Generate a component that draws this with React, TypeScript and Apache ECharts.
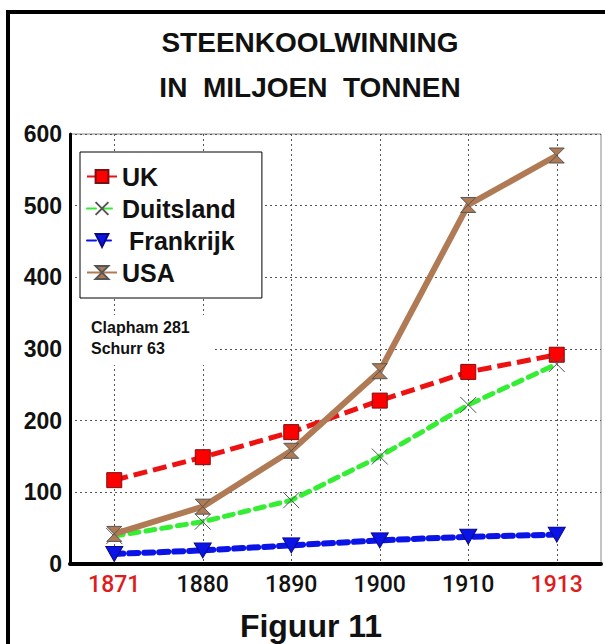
import React, { useEffect, useRef } from "react";
import * as echarts from "echarts";

const years = ["1871", "1880", "1890", "1900", "1910", "1913"];
const redYears = ["1871", "1913"];
const uk = [117, 149, 184, 228, 268, 292];
const duitsland = [39, 59, 89, 150, 222, 279];
const frankrijk = [14, 19, 26, 33, 38, 41];
const usa = [42, 80, 158, 269, 501, 570];
const yTicks = { min: 0, max: 600, interval: 100 };
const titleLines = ["STEENKOOLWINNING", "IN  MILJOEN  TONNEN"];
const sourceLines = ["Clapham 281", "Schurr 63"];
const caption = "Figuur 11";

const FONT = "'Liberation Sans', Arial, sans-serif";
const XFONT = "Roboto, 'Liberation Sans', sans-serif";

export default function App() {
  const ref = useRef<HTMLDivElement>(null);
  useEffect(() => {
    if (!ref.current) return;
    const chart = echarts.init(ref.current, null, { renderer: "svg" });
    const hourglass = "path://M0,0L10,0L0,10L10,10Z";
    const cross = "path://M0,0L10,10M10,0L0,10";
    const xData = years.map((y) => ({
      value: y,
      textStyle: {
        color: redYears.includes(y) ? "#e01b1b" : "#111",
      },
    }));
    chart.setOption({
      animation: false,
      backgroundColor: "#ffffff",
      textStyle: { fontFamily: FONT },
      title: [
        {
          text: titleLines[0],
          left: 310,
          textAlign: "center",
          top: 28,
          padding: 0,
          textStyle: { fontSize: 28, fontWeight: "bold", color: "#111", fontFamily: FONT },
        },
        {
          text: titleLines[1],
          left: 310,
          textAlign: "center",
          top: 73,
          padding: 0,
          textStyle: { fontSize: 28, fontWeight: "bold", color: "#111", fontFamily: FONT },
        },
        {
          text: caption,
          left: 311,
          textAlign: "center",
          top: 610,
          padding: 0,
          textStyle: { fontSize: 32, fontWeight: "bold", color: "#111", fontFamily: FONT },
        },
      ],
      legend: {
        orient: "vertical",
        left: 80,
        top: 152,
        padding: [12, 26, 13, 6],
        itemGap: 7,
        itemWidth: 30,
        itemHeight: 16,
        backgroundColor: "#ffffff",
        borderColor: "#000",
        borderWidth: 1,
        borderRadius: 0,
        formatter: (name: string) => (name === "Frankrijk" ? "\u00a0Frankrijk" : name),
        textStyle: { fontSize: 25, fontWeight: "bold", color: "#111", lineHeight: 25, fontFamily: FONT },
        data: ["UK", "Duitsland", "Frankrijk", "USA"],
      },
      grid: {
        left: 70,
        right: 4,
        top: 134,
        bottom: 80,
        show: true,
        borderColor: "#888",
        borderWidth: 1,
        backgroundColor: "transparent",
      },
      xAxis: {
        type: "category",
        data: xData,
        boundaryGap: true,
        axisLine: { show: true, lineStyle: { color: "#000", width: 4 } },
        axisTick: { show: false, alignWithLabel: true },
        splitLine: { show: true, alignWithLabel: true, lineStyle: { color: "#555", type: [2, 3], width: 1 } },
        axisLabel: {
          margin: 9,
          fontSize: 23,
          fontFamily: XFONT,
          fontWeight: 500,
          color: "#111",
        },
      },
      yAxis: {
        type: "value",
        min: yTicks.min,
        max: yTicks.max,
        interval: yTicks.interval,
        axisLine: { show: true, lineStyle: { color: "#000", width: 3 } },
        axisTick: { show: false },
        splitLine: { show: true, lineStyle: { color: "#555", type: [2, 3], width: 1 } },
        axisLabel: { margin: 8, fontSize: 23, fontWeight: "bold", color: "#111", fontFamily: FONT },
      },
      graphic: [
        {
          type: "rect",
          shape: { x: 72, y: 315, width: 143, height: 50 },
          style: { fill: "#ffffff" },
          z: 5,
        },
        {
          type: "text",
          x: 91,
          y: 327,
          z: 6,
          style: { text: sourceLines[0], font: `bold 16px ${FONT}`, fill: "#111", textVerticalAlign: "middle" },
        },
        {
          type: "text",
          x: 91,
          y: 348,
          z: 6,
          style: { text: sourceLines[1], font: `bold 16px ${FONT}`, fill: "#111", textVerticalAlign: "middle" },
        },
        {
          type: "rect",
          shape: { x: 8, y: 12, width: 610, height: 650 },
          style: { fill: "none", stroke: "#000", lineWidth: 4 },
          z: 10,
        },
      ],
      series: [
        {
          name: "UK",
          type: "line",
          data: uk,
          symbol: "rect",
          symbolSize: 15,
          itemStyle: { color: "#ff0000", borderColor: "#7a1010", borderWidth: 1 },
          lineStyle: { color: "#ee1111", width: 5, type: [14, 6] },
          z: 3,
        },
        {
          name: "Duitsland",
          type: "line",
          data: duitsland,
          symbol: cross,
          symbolSize: 16,
          itemStyle: { color: "#33ee33", borderColor: "#555", borderWidth: 1 },
          lineStyle: { color: "#33ee33", width: 5, type: [9, 7], cap: "round" },
          z: 3,
        },
        {
          name: "Frankrijk",
          type: "line",
          data: frankrijk,
          symbol: "triangle",
          symbolRotate: 180,
          symbolSize: [17, 15],
          itemStyle: { color: "#0a14e6", borderColor: "#0a0a80", borderWidth: 1 },
          lineStyle: { color: "#0a14e6", width: 6, type: [9, 6], cap: "round" },
          z: 3,
        },
        {
          name: "USA",
          type: "line",
          data: usa,
          symbol: hourglass,
          symbolSize: [15, 15],
          itemStyle: { color: "#b07a55", borderColor: "#555", borderWidth: 1 },
          lineStyle: { color: "#b07a55", width: 6 },
          z: 4,
        },
      ],
    });
    return () => chart.dispose();
  }, []);
  return (
    <div
      ref={ref}
      style={{ position: "fixed", left: 0, top: 0, width: 605, height: 644 }}
    />
  );
}
